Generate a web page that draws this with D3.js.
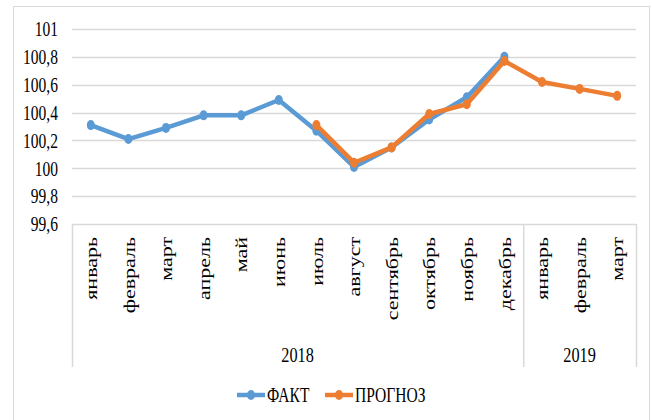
<!DOCTYPE html>
<html>
<head>
	<meta charset="utf-8">
	<script src="https://d3js.org/d3.v7.min.js"></script>
	<style>
		body { margin: 0; background: #fff; }
		text { font-family: "Liberation Serif", "Times New Roman", serif; fill: #000; }
	</style>
</head>
<body>
	<div id="output"></div>
	<script>
		// chart values
		var months = ["январь","февраль","март","апрель","май","июнь","июль","август",
			"сентябрь","октябрь","ноябрь","декабрь","январь","февраль","март"];
		var years = ["2018", "2019"];
		var yearSpan = [12, 3];
		var fakt = [100.31,100.21,100.29,100.38,100.38,100.49,100.27,100.01,100.15,100.35,100.51,100.80,null,null,null];
		var prognoz = [null,null,null,null,null,null,100.31,100.04,100.15,100.39,100.46,100.77,100.62,100.57,100.52];
		var yTicks = [99.6,99.8,100,100.2,100.4,100.6,100.8,101];
		var seriesNames = ["ФАКТ", "ПРОГНОЗ"];
		var colors = ["#5b9bd5", "#ed7d31"];

		var W = 652, H = 420;
		var plotLeft = 72, plotRight = 636, plotTop = 29, plotBottom = 224, axisBottom = 367;
		var sx = 0.74; // text looks squeezed sideways in the original

		var svg = d3.select("#output").append("svg")
			.attr("width", W).attr("height", H);

		// outer frame
		svg.append("rect")
			.attr("x", 13.5).attr("y", 6.5)
			.attr("width", 636).attr("height", 430)
			.style("fill", "white").style("stroke", "#d9d9d9");

		var x = d3.scaleBand().domain(d3.range(months.length)).range([plotLeft, plotRight]);
		var y = d3.scaleLinear().domain([99.6, 101]).range([plotBottom, plotTop]);
		var cx = function(i){ return x(i) + x.bandwidth()/2; };

		// grid lines
		svg.append("g").selectAll("line").data(yTicks).enter().append("line")
			.attr("x1", plotLeft).attr("x2", plotRight)
			.attr("y1", function(d){ return Math.round(y(d)) + 0.5; })
			.attr("y2", function(d){ return Math.round(y(d)) + 0.5; })
			.style("stroke", "#d9d9d9").style("stroke-width", 1.5);

		// y labels
		var fmt = function(d){ return String(+d.toFixed(1)).replace(".", ","); };
		svg.append("g").selectAll("text").data(yTicks).enter().append("text")
			.attr("transform", function(d){ return "translate(58," + y(d) + ") scale(" + sx + ",1)"; })
			.attr("dy", "0.35em")
			.style("font-size", "21px")
			.style("text-anchor", "end")
			.text(fmt);

		// category axis box: vertical lines at the edges and between years
		var bounds = [0];
		yearSpan.forEach(function(n){ bounds.push(bounds[bounds.length-1] + n); });
		svg.append("g").selectAll("line").data(bounds).enter().append("line")
			.attr("x1", function(d){ return d < months.length ? x(d) + 0.5 : plotRight + 0.5; })
			.attr("x2", function(d){ return d < months.length ? x(d) + 0.5 : plotRight + 0.5; })
			.attr("y1", plotBottom).attr("y2", axisBottom)
			.style("stroke", "#d9d9d9").style("stroke-width", 1.5);

		// month labels
		svg.append("g").selectAll("text").data(months).enter().append("text")
			.attr("transform", function(d, i){ return "translate(" + cx(i) + ",237) scale(0.8,1) rotate(-90)"; })
			.attr("dy", "0.35em")
			.style("font-size", "22px")
			.style("text-anchor", "end")
			.text(function(d){ return d; });

		// year labels
		svg.append("g").selectAll("text").data(years).enter().append("text")
			.attr("transform", function(d, i){
				var a = x(bounds[i]), b = bounds[i+1] < months.length ? x(bounds[i+1]) : plotRight;
				return "translate(" + ((a + b)/2) + ",362) scale(" + sx + ",1)";
			})
			.style("font-size", "22px")
			.style("text-anchor", "middle")
			.text(function(d){ return d; });

		// series
		var line = d3.line()
			.defined(function(d){ return d != null; })
			.x(function(d, i){ return cx(i); })
			.y(function(d){ return y(d); });

		[fakt, prognoz].forEach(function(vals, k){
			var g = svg.append("g");
			g.append("path")
				.attr("d", line(vals))
				.style("fill", "none")
				.style("stroke", colors[k])
				.style("stroke-width", 4.5)
				.style("stroke-linejoin", "round");
			g.selectAll("ellipse").data(vals.map(function(v, i){ return {v: v, i: i}; })
					.filter(function(d){ return d.v != null; }))
				.enter().append("ellipse")
				.attr("cx", function(d){ return cx(d.i); })
				.attr("cy", function(d){ return y(d.v); })
				.attr("rx", 4).attr("ry", 5)
				.style("fill", colors[k]);
		});

		// legend
		var legX = [237, 325];
		seriesNames.forEach(function(name, k){
			var g = svg.append("g").attr("transform", "translate(" + legX[k] + ",395)");
			g.append("line").attr("x1", 0).attr("x2", 28).attr("y1", 0).attr("y2", 0)
				.style("stroke", colors[k]).style("stroke-width", 4.5);
			g.append("ellipse").attr("cx", 14).attr("cy", 0).attr("rx", 4).attr("ry", 5)
				.style("fill", colors[k]);
			g.append("text")
				.attr("transform", "translate(30,0) scale(" + sx + ",1)")
				.attr("dy", "0.35em")
				.style("font-size", "21px")
				.text(name);
		});
	</script>
</body>
</html>
